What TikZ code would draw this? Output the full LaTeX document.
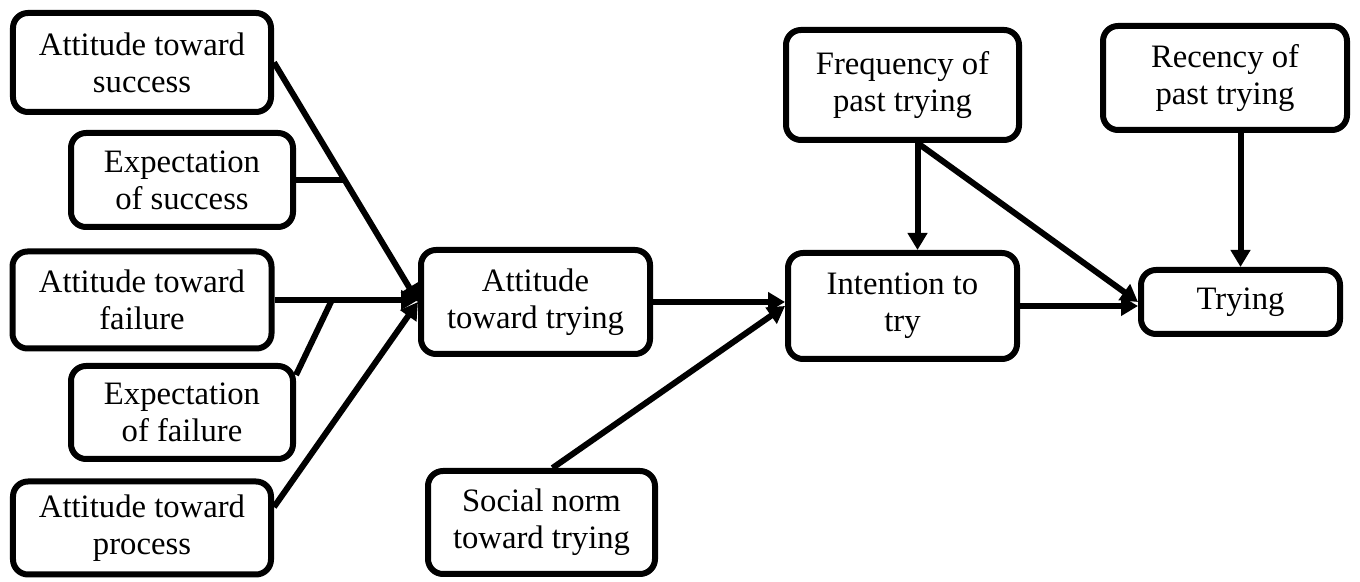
\documentclass[tikz,border=0pt]{standalone}
\usepackage{fontspec}
\setmainfont{Liberation Serif}
\usepackage{tikz}
\usetikzlibrary{arrows.meta,calc}

\begin{document}
\begin{tikzpicture}[
        box/.style={draw, black, line width=0.12cm, rounded corners=0.3cm, align=center,
                    inner sep=0pt, font={\fontsize{18.6}{21}\selectfont}},
        link/.style={line width=0.12cm},
        arr/.style={link, -{Triangle[length=0.34cm,width=0.38cm]}}
    ]
        \useasboundingbox (0,0) rectangle (27.2,11.64);

        % left column
        \node[box, minimum width=5.16cm, minimum height=1.98cm] (atsucc) at (2.84, 10.39) {Attitude toward\\success};
        \node[box, minimum width=4.44cm, minimum height=1.88cm] (expsucc) at (3.64, 8.04) {Expectation\\of success};
        \node[box, minimum width=5.18cm, minimum height=1.94cm] (atfail) at (2.84, 5.64) {Attitude toward\\failure};
        \node[box, minimum width=4.44cm, minimum height=1.86cm] (expfail) at (3.64, 3.39) {Expectation\\of failure};
        \node[box, minimum width=5.16cm, minimum height=1.86cm] (atproc) at (2.84, 1.08) {Attitude toward\\process};

        % middle
        \node[box, minimum width=4.58cm, minimum height=2.08cm] (atttry) at (10.71, 5.6) {Attitude\\toward trying};
        \node[box, minimum width=4.54cm, minimum height=2.06cm] (social) at (10.83, 1.19) {Social norm\\toward trying};
        \node[box, minimum width=4.58cm, minimum height=2.12cm] (intent) at (18.05, 5.52) {Intention to\\try};
        \node[box, minimum width=4.66cm, minimum height=2.2cm] (freq) at (18.05, 9.94) {Frequency of\\past trying};

        % right
        \node[box, minimum width=4.88cm, minimum height=2.08cm] (recency) at (24.5, 10.08) {Recency of\\past trying};
        \node[box, minimum width=3.98cm, minimum height=1.28cm] (trying) at (24.81, 5.6) {Trying};

        \coordinate (jsucc) at ($(atsucc.east)!0.49!(atttry.west)$);
        \coordinate (jfail) at ($(atfail.east)!0.4!(atfail.east -| atttry.west)$);

        \draw[arr] (atsucc.east) -- (atttry.west);
        \draw[link] (expsucc.east) -- (expsucc.east -| jsucc);
        \draw[arr] (atfail.east) -- (atfail.east -| atttry.west);
        \draw[link] ([yshift=-0.24cm]expfail.north east) -- (jfail);
        \draw[arr] ([yshift=0.42cm]atproc.east) -- (atttry.west);

        \draw[arr] (atttry.east) -- (atttry.east -| intent.west);
        \draw[arr] ([xshift=0.22cm]social.north) -- (intent.west);
        \draw[arr] ([xshift=0.3cm]freq.south) -- ([xshift=0.3cm]freq.south |- intent.north);
        \draw[arr] ([xshift=0.3cm]freq.south) -- (trying.west);
        \draw[arr] (intent.east) -- (intent.east -| trying.west);
        \draw[arr] (recency.south -| trying.north) -- (trying.north);
    \end{tikzpicture}
\end{document}
